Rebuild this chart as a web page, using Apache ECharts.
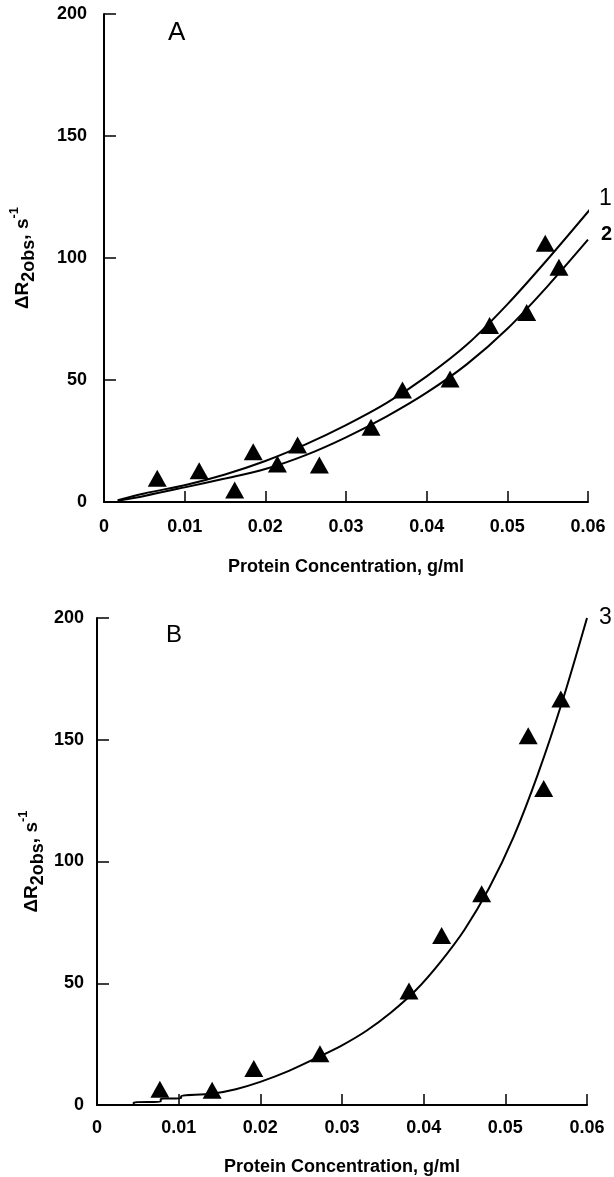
<!DOCTYPE html>
<html>
<head>
<meta charset="utf-8">
<script src="https://cdn.jsdelivr.net/npm/echarts@6/dist/echarts.min.js"></script>
<style>
  html, body { margin: 0; padding: 0; background: #fff; }
  #chart { width: 614px; height: 1177px; }
</style>
</head>
<body>
<div id="chart"></div>
<script>
// panel A: measured points
const pointsAX = [0.0066, 0.0118, 0.0162, 0.0185, 0.0215, 0.024, 0.0267, 0.0331, 0.037, 0.0429, 0.0478, 0.0524, 0.0547, 0.0564];
const pointsAY = [9.7, 12.8, 4.9, 20.6, 15.6, 23.4, 15.2, 30.6, 45.9, 50.4, 72.3, 77.7, 106, 96.2];

// panel A: fitted curves 1 and 2
const curve1X = [0.0017, 0.005, 0.01, 0.015, 0.02, 0.025, 0.03, 0.035, 0.04, 0.045, 0.05, 0.055, 0.0604];
const curve1Y = [0.7, 3.5, 6.9, 11.3, 16.8, 23.6, 31.5, 40.5, 51.5, 64.5, 81, 99.5, 120.5];
const curve2X = [0.0017, 0.005, 0.01, 0.015, 0.02, 0.025, 0.03, 0.035, 0.04, 0.045, 0.05, 0.055, 0.06];
const curve2Y = [0.5, 2.5, 6, 9.6, 13.5, 19.2, 26.5, 35, 44.8, 56.5, 71, 88.5, 107.5];

// panel B: measured points
const pointsBX = [0.0077, 0.0141, 0.0192, 0.0273, 0.0382, 0.0422, 0.0471, 0.0528, 0.0547, 0.0568];
const pointsBY = [6.5, 6.1, 15, 21, 46.8, 69.6, 86.8, 151.6, 130, 166.7];

// panel B: fitted curve 3
const curve3X = [0, 0.0045, 0.0045, 0.0078, 0.0078, 0.0103, 0.0103, 0.014, 0.017, 0.02, 0.0235, 0.027, 0.03, 0.033, 0.036, 0.039, 0.042, 0.045, 0.048, 0.051, 0.054, 0.057, 0.06];
const curve3Y = [0, 0, 1.1, 1.3, 2.5, 2.8, 3.7, 4.6, 6.5, 9.5, 14, 19.5, 24.5, 30.5, 38, 47, 58.5, 72, 89, 110, 136, 166, 200];

const xTicks = ['0', '0.01', '0.02', '0.03', '0.04', '0.05', '0.06'];
const yTicks = ['0', '50', '100', '150', '200'];

const FONT = 'Liberation Sans, Arial, sans-serif';
const zip = (xs, ys) => xs.map((x, i) => [x, ys[i]]);

const chart = echarts.init(document.getElementById('chart'));

// subscript / superscript via token line heights inside one tall line
const yName = '{m|\u0394R}{sub|2obs}{m|, s}{sup|-1}';
const yNameStyle = {
  fontFamily: FONT,
  color: '#000',
  rich: {
    m: { fontSize: 19, fontWeight: 'bold', fontFamily: FONT, verticalAlign: 'middle', lineHeight: 30 },
    sub: { fontSize: 18, fontWeight: 'bold', fontFamily: FONT, verticalAlign: 'bottom', lineHeight: 18 },
    sup: { fontSize: 13, fontWeight: 'bold', fontFamily: FONT, verticalAlign: 'top', lineHeight: 14 }
  }
};

function xAxis(gridIndex, labelMargin, nameGap) {
  return {
    type: 'value',
    gridIndex: gridIndex,
    min: 0,
    max: 0.06,
    interval: 0.01,
    name: 'Protein Concentration, g/ml',
    nameLocation: 'middle',
    nameGap: nameGap,
    nameMoveOverlap: false,
    nameTextStyle: { fontFamily: FONT, fontWeight: 'bold', fontSize: 18, color: '#000' },
    axisLine: { lineStyle: { color: '#000', width: 2 } },
    axisTick: { inside: true, length: 11, lineStyle: { color: '#000', width: 1.5 } },
    splitLine: { show: false },
    axisLabel: {
      margin: labelMargin,
      fontFamily: FONT, fontWeight: 'bold', fontSize: 18, color: '#000',
      formatter: (v) => xTicks[Math.round(v * 100)]
    }
  };
}

function yAxis(gridIndex, labelMargin, nameGap) {
  return {
    type: 'value',
    gridIndex: gridIndex,
    min: 0,
    max: 200,
    interval: 50,
    name: yName,
    nameLocation: 'middle',
    nameRotate: 90,
    nameGap: nameGap,
    nameMoveOverlap: false,
    nameTextStyle: yNameStyle,
    axisLine: { show: true, lineStyle: { color: '#000', width: 2 } },
    axisTick: { show: true, inside: true, length: 12, lineStyle: { color: '#000', width: 1.5 } },
    splitLine: { show: false },
    axisLabel: {
      margin: labelMargin,
      fontFamily: FONT, fontWeight: 'bold', fontSize: 18, color: '#000',
      formatter: (v) => yTicks[v / 50]
    }
  };
}

function curve(name, xs, ys, gi, label, offset, bold, size) {
  return {
    name: name,
    type: 'line',
    xAxisIndex: gi,
    yAxisIndex: gi,
    data: zip(xs, ys),
    showSymbol: false,
    smooth: 0.3,
    lineStyle: { color: '#000', width: 2 },
    silent: true,
    endLabel: {
      show: true,
      formatter: label,
      offset: offset,
      fontFamily: FONT,
      fontSize: size,
      fontWeight: bold ? 'bold' : 'normal',
      color: '#000'
    }
  };
}

function points(name, xs, ys, gi) {
  return {
    name: name,
    type: 'scatter',
    xAxisIndex: gi,
    yAxisIndex: gi,
    data: zip(xs, ys),
    symbol: 'triangle',
    symbolSize: [19, 17],
    itemStyle: { color: '#000', opacity: 1 },
    z: 5
  };
}

chart.setOption({
  animation: false,
  backgroundColor: '#fff',
  grid: [
    { left: 104, top: 14, width: 484, height: 488 },
    { left: 97, top: 618, width: 490, height: 487 }
  ],
  xAxis: [xAxis(0, 16, 56), xAxis(1, 14, 53)],
  yAxis: [yAxis(0, 17, 66), yAxis(1, 13, 50)],
  graphic: [
    { type: 'text', left: 168, top: 20, style: { text: 'A', fontFamily: FONT, fontSize: 26, fill: '#000' } },
    { type: 'text', left: 166, top: 623, style: { text: 'B', fontFamily: FONT, fontSize: 24, fill: '#000' } }
  ],
  series: [
    curve('1', curve1X, curve1Y, 0, '1', [2, -12], false, 23),
    curve('2', curve2X, curve2Y, 0, '2', [5, -5], true, 20),
    points('A', pointsAX, pointsAY, 0),
    curve('3', curve3X, curve3Y, 1, '3', [4, 0], false, 23),
    points('B', pointsBX, pointsBY, 1)
  ]
});
</script>
</body>
</html>
